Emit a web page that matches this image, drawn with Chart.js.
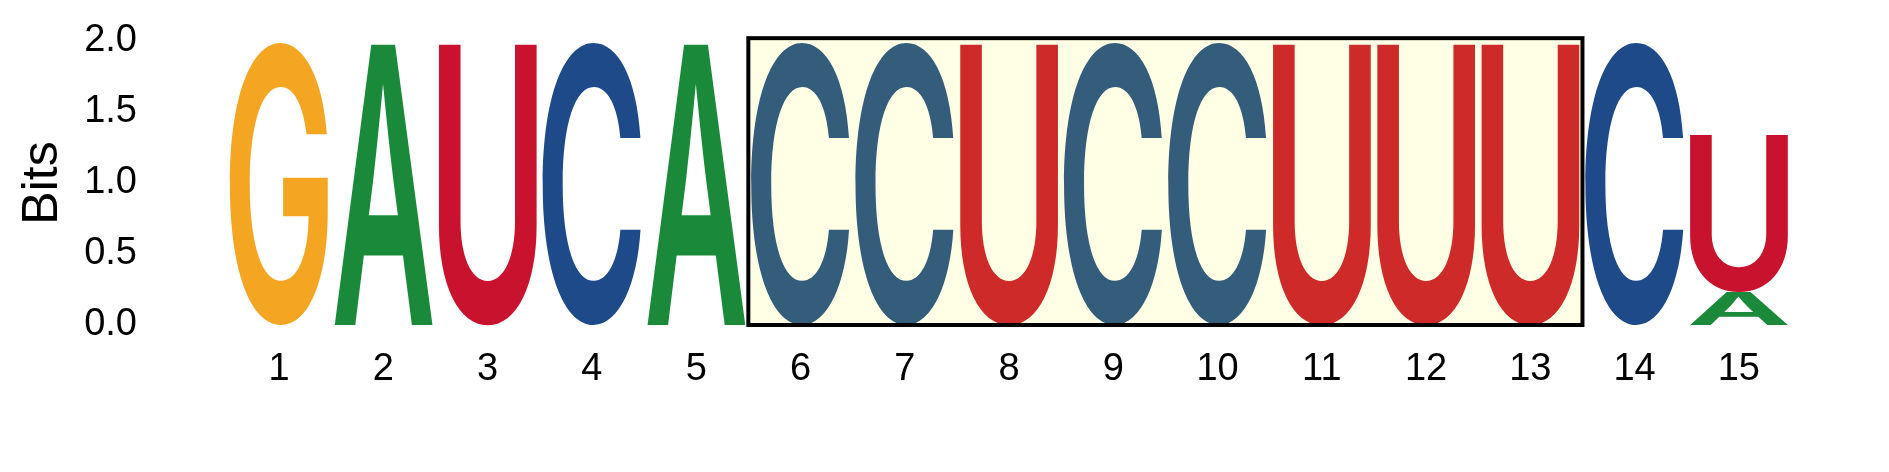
<!DOCTYPE html>
<html>
<head>
<meta charset="utf-8">
<script src="https://cdn.jsdelivr.net/npm/chart.js@4.4.1/dist/chart.umd.min.js"></script>
<style>
  html, body { margin: 0; padding: 0; background: #fff; }
  #wrap { width: 1889px; height: 472px; }
</style>
</head>
<body>
<div id="wrap"><canvas id="logo"></canvas></div>
<script>
// sequence logo, bits per letter at each position
const positions = ['1', '2', '3', '4', '5', '6', '7', '8', '9', '10', '11', '12', '13', '14', '15'];
const bitsA = [0, 1.98, 0, 0, 1.98, 0, 0, 0, 0, 0, 0, 0, 0, 0, 0.23];
const bitsC = [0, 0, 0, 1.98, 0, 1.98, 1.98, 0, 1.98, 1.98, 0, 0, 0, 1.98, 0];
const bitsG = [1.98, 0, 0, 0, 0, 0, 0, 0, 0, 0, 0, 0, 0, 0, 0];
const bitsU = [0, 0, 1.98, 0, 0, 0, 0, 1.98, 0, 0, 1.98, 1.98, 1.98, 0, 1.11];
const yTicks = [0, 0.5, 1.0, 1.5, 2.0];
const highlight = [6, 13];   // first and last boxed position

const letterColors = { A: '#1a8a3a', C: '#1e4a89', G: '#f4a623', U: '#c8122e' };
const FONT = 'Arial, "Liberation Sans", sans-serif';

let drawLetter = (ctx, ch, left, top, w, h, color) => {
    ctx.save();
    ctx.font = '600 200px Inter, "Liberation Sans", sans-serif';
    let m = ctx.measureText(ch);
    let inkW = m.actualBoundingBoxLeft + m.actualBoundingBoxRight;
    let inkH = m.actualBoundingBoxAscent + m.actualBoundingBoxDescent;
    ctx.translate(left, top);
    ctx.scale(w / inkW, h / inkH);
    ctx.fillStyle = color;
    ctx.textBaseline = 'alphabetic';
    ctx.textAlign = 'left';
    ctx.fillText(ch, m.actualBoundingBoxLeft, m.actualBoundingBoxAscent);
    ctx.restore();
};

const letterPlugin = {
    id: 'letters',
    afterDatasetsDraw(chart) {
        let ctx = chart.ctx;
        chart.data.datasets.forEach((ds, i) => {
            let meta = chart.getDatasetMeta(i);
            meta.data.forEach((bar, j) => {
                if (!(ds.data[j] > 0)) return;
                let p = bar.getProps(['x', 'y', 'base', 'width'], true);
                drawLetter(ctx, ds.label, p.x - p.width / 2, p.y, p.width, p.base - p.y, letterColors[ds.label]);
            });
        });

        // highlighted box over positions 6..13
        let xs = chart.scales.x, ys = chart.scales.y;
        let i0 = highlight[0] - 1, i1 = highlight[1] - 1;
        let left = (xs.getPixelForValue(i0 - 1) + xs.getPixelForValue(i0)) / 2;
        let right = (xs.getPixelForValue(i1) + xs.getPixelForValue(i1 + 1)) / 2;
        let top = ys.getPixelForValue(2.02);
        let bottom = ys.getPixelForValue(0);
        ctx.save();
        ctx.fillStyle = 'rgba(255, 255, 0, 0.1)';
        ctx.fillRect(left, top, right - left, bottom - top);
        ctx.strokeStyle = '#000';
        ctx.lineWidth = 4;
        ctx.strokeRect(left, top, right - left, bottom - top);
        ctx.restore();
    }
};

let mkSet = (label, data) => ({
    label: label,
    data: data,
    backgroundColor: 'rgba(0,0,0,0)',
    borderWidth: 0,
    barPercentage: 0.945,
    categoryPercentage: 1.0
});

new Chart(document.getElementById('logo'), {
    type: 'bar',
    data: {
        labels: positions,
        datasets: [mkSet('A', bitsA), mkSet('C', bitsC), mkSet('G', bitsG), mkSet('U', bitsU)]
    },
    options: {
        responsive: true,
        maintainAspectRatio: false,
        animation: false,
        layout: { padding: { top: 41, right: 98, bottom: 0, left: 0 } },
        plugins: {
            legend: { display: false },
            tooltip: { enabled: false }
        },
        scales: {
            x: {
                stacked: true,
                grid: { display: false, drawTicks: false },
                border: { display: false },
                ticks: {
                    color: '#000',
                    padding: 22,
                    font: { family: FONT, size: 38 }
                },
                afterFit: (scale) => { scale.height = 147; }
            },
            y: {
                stacked: true,
                min: 0,
                max: 2,
                afterBuildTicks: (scale) => { scale.ticks = yTicks.map(v => ({ value: v })); },
                grid: { display: false, drawTicks: true, tickLength: 90 },
                border: { display: false },
                ticks: {
                    color: '#000',
                    padding: 0,
                    font: { family: FONT, size: 38 },
                    callback: (v) => Number(v).toFixed(1)
                },
                title: {
                    display: true,
                    text: 'Bits',
                    color: '#000',
                    padding: { top: 13, bottom: 0 },
                    font: { family: FONT, size: 50 }
                },
                afterFit: (scale) => { scale.width = 227; }
            }
        }
    },
    plugins: [letterPlugin]
});
</script>
</body>
</html>
